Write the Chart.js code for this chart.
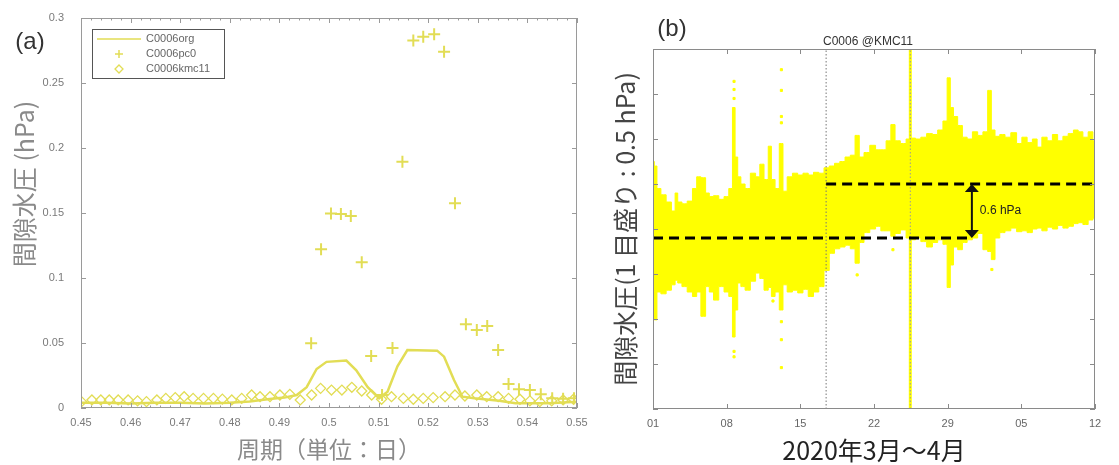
<!DOCTYPE html>
<html>
<head>
<meta charset="utf-8">
<script src="https://cdn.jsdelivr.net/npm/chart.js@4/dist/chart.umd.min.js"></script>
<style>
  html, body { margin: 0; padding: 0; background: #fff; }
  #wrap { position: relative; width: 1119px; height: 465px; }
  .panel { position: absolute; top: 0; height: 465px; }
  #panelA { left: 0; width: 600px; }
  #panelB { left: 600px; width: 519px; }
</style>
</head>
<body>
<div id="wrap">
  <div class="panel" id="panelA"><canvas id="spectrumChart" width="600" height="465"></canvas></div>
  <div class="panel" id="panelB"><canvas id="pressureChart" width="519" height="465"></canvas></div>
</div>
<script>
// (a) スペクトル: 周期 (日) と振幅 (hPa)
const periodTicks = [0.45, 0.46, 0.47, 0.48, 0.49, 0.5, 0.51, 0.52, 0.53, 0.54, 0.55];
const periodTickLabels = ['0.45', '0.46', '0.47', '0.48', '0.49', '0.5', '0.51', '0.52', '0.53', '0.54', '0.55'];
const ampTicks = [0, 0.05, 0.1, 0.15, 0.2, 0.25, 0.3];
const ampTickLabels = ['0', '0.05', '0.1', '0.15', '0.2', '0.25', '0.3'];

const orgPeriod = [0.450, 0.455, 0.460, 0.465, 0.470, 0.475, 0.480, 0.484, 0.488, 0.491, 0.4935, 0.4955, 0.4975, 0.4995, 0.5035, 0.5055, 0.5078, 0.5101, 0.5118, 0.5138, 0.5158, 0.5218, 0.5232, 0.5252, 0.5269, 0.5293, 0.5343, 0.5376, 0.5443, 0.5500];
const orgAmp = [0.004, 0.004, 0.0035, 0.004, 0.004, 0.0035, 0.004, 0.005, 0.007, 0.008, 0.010, 0.016, 0.030, 0.0355, 0.0365, 0.029, 0.016, 0.0075, 0.0125, 0.032, 0.0446, 0.0441, 0.0395, 0.0215, 0.0087, 0.0075, 0.0056, 0.0036, 0.0036, 0.0049];

const pc0Period = [0.4964, 0.4984, 0.5004, 0.5024, 0.5044, 0.5066, 0.5085, 0.5107, 0.5128, 0.5148, 0.5170, 0.5190, 0.5212, 0.5232, 0.5254, 0.5276, 0.5298, 0.5319, 0.5341, 0.5362, 0.5383, 0.5405, 0.5427, 0.5450, 0.5472, 0.5494];
const pc0Amp = [0.0498, 0.1221, 0.1497, 0.1492, 0.1477, 0.1121, 0.0400, 0.0100, 0.0462, 0.1895, 0.2826, 0.2856, 0.2875, 0.2741, 0.1575, 0.0644, 0.0600, 0.0631, 0.0446, 0.0185, 0.0144, 0.0138, 0.0105, 0.0075, 0.0072, 0.0075];

const kmcPeriod = [0.4501, 0.4522, 0.4540, 0.4557, 0.4575, 0.4595, 0.4614, 0.4632, 0.4653, 0.4671, 0.4690, 0.4708, 0.4726, 0.4747, 0.4767, 0.4785, 0.4804, 0.4824, 0.4844, 0.4861, 0.4881, 0.4901, 0.4921, 0.4942, 0.4965, 0.4983, 0.5005, 0.5026, 0.5046, 0.5066, 0.5086, 0.5106, 0.5126, 0.5150, 0.5170, 0.5190, 0.5210, 0.5234, 0.5254, 0.5274, 0.5298, 0.5318, 0.5341, 0.5362, 0.5385, 0.5405, 0.5425, 0.5449, 0.5472, 0.5493];
const kmcAmp = [0.0049, 0.0062, 0.0062, 0.0062, 0.0062, 0.0062, 0.0055, 0.0049, 0.0062, 0.0074, 0.0080, 0.0087, 0.0074, 0.0074, 0.0074, 0.0068, 0.0062, 0.0074, 0.0100, 0.0087, 0.0087, 0.0100, 0.0105, 0.0062, 0.0100, 0.0151, 0.0138, 0.0138, 0.0159, 0.0131, 0.0100, 0.0067, 0.0087, 0.0074, 0.0067, 0.0074, 0.0080, 0.0087, 0.0100, 0.0092, 0.0100, 0.0087, 0.0087, 0.0074, 0.0067, 0.0055, 0.0049, 0.0055, 0.0062, 0.0067];

// (b) 間隙水圧の時系列: 3/1 からの日数, 1 目盛り 0.5 hPa
const dayTicks = [0, 7, 14, 21, 28, 35, 42];
const dayTickLabels = ['01', '08', '15', '22', '29', '05', '12'];
const pressureTicks = [0, 0.5, 1, 1.5, 2, 2.5, 3, 3.5, 4];

const bandDays = [0, 0.25, 0.5, 1, 1.5, 2, 2.2, 2.5, 3, 3.5,
  4, 4.3, 4.8, 5.2, 5.5, 6, 6.5, 7, 7.4, 7.7,
  7.9, 8.2, 8.5, 9, 9.5, 10, 10.3, 10.8, 11.1, 11.4,
  11.8, 12.2, 12.5, 13, 13.5, 14, 14.5, 15, 15.5, 16,
  16.5, 17, 17.5, 18, 18.5, 19, 19.4, 19.8, 20.3, 20.9,
  21.4, 21.9, 22.4, 22.8, 23.2, 23.8, 24.3, 24.7, 25.2, 25.7,
  26.3, 26.8, 27.3, 27.8, 28.1, 28.4, 28.7, 29.2, 29.6, 30.1,
  30.6, 31.1, 31.6, 32, 32.3, 32.7, 33.2, 33.7, 34.3, 34.8,
  35.3, 35.8, 36.3, 36.7, 37.2, 37.7, 38.2, 38.7, 39.2, 39.7,
  40.2, 40.6, 41.1, 41.6, 42];
const bandUpper = [2.75, 2.70, 2.45, 2.38, 2.30, 2.20, 2.40, 2.30, 2.28, 2.31,
  2.45, 2.58, 2.57, 2.40, 2.36, 2.37, 2.33, 2.36, 2.45, 3.35,
  2.80, 2.58, 2.50, 2.45, 2.62, 2.58, 2.72, 2.55, 2.92, 2.55,
  2.45, 2.95, 2.42, 2.58, 2.62, 2.60, 2.62, 2.60, 2.63, 2.62,
  2.68, 2.70, 2.73, 2.75, 2.80, 2.82, 3.04, 2.80, 2.85, 2.93,
  2.88, 2.88, 2.98, 3.16, 2.98, 2.95, 3.00, 3.01, 3.00, 3.02,
  3.06, 3.05, 3.10, 3.20, 3.68, 3.35, 3.25, 3.15, 3.02, 3.00,
  3.08, 3.04, 3.08, 3.54, 3.10, 3.03, 3.05, 3.02, 3.07, 2.95,
  3.02, 2.96, 3.00, 2.91, 3.02, 2.98, 3.05, 2.98, 3.03, 3.06,
  3.10, 3.08, 3.02, 3.08, 2.98];
const bandLower = [1.00, 0.99, 1.30, 1.28, 1.32, 1.38, 1.43, 1.40, 1.36, 1.30,
  1.25, 1.30, 1.03, 1.36, 1.30, 1.21, 1.36, 1.30, 1.25, 0.80,
  1.10, 1.40, 1.36, 1.32, 1.42, 1.51, 1.45, 1.32, 1.35, 1.25,
  1.30, 1.10, 1.38, 1.30, 1.32, 1.29, 1.33, 1.25, 1.30, 1.36,
  1.54, 1.73, 1.78, 1.80, 1.82, 1.78, 1.62, 1.85, 1.96, 2.00,
  2.03, 1.98, 1.98, 1.92, 1.95, 1.99, 1.90, 1.88, 1.90, 1.86,
  1.80, 1.85, 1.88, 1.83, 1.35, 1.60, 1.80, 1.77, 1.85, 1.88,
  1.90, 1.95, 1.77, 1.75, 1.66, 1.90, 1.96, 1.98, 2.01, 1.97,
  1.98, 1.96, 2.00, 2.01, 1.98, 2.02, 2.00, 2.04, 2.01, 2.03,
  2.06, 2.07, 2.05, 2.10, 2.12];

// 飛び値 (点)
const outlierDays = [7.7, 7.7, 7.7, 7.7, 7.7, 12.2, 12.2, 12.2, 12.2, 12.2, 12.2, 12.2, 19.4, 22.8, 32.2, 11.4];
const outlierValues = [3.45, 3.55, 3.64, 0.64, 0.58, 3.77, 3.54, 3.25, 3.18, 0.97, 0.77, 0.46, 1.49, 1.77, 1.55, 1.20];

// 基準線と縦線
const levelLow = { from: 0, to: 29.9, value: 1.9 };
const levelHigh = { from: 16.45, to: 42, value: 2.5 };
const markerDays = [16.45, 24.45];
const arrowDay = 30.3;

const yellowA = '#e2dd55';
const yellowB = '#ffff00';
const latin = '"Liberation Sans", Arial, sans-serif';
const cjk = '"Noto Sans CJK JP", "Noto Sans", sans-serif';

const pts = (xs, ys) => xs.map((x, i) => ({ x: x, y: ys[i] }));

// 枠と内向きの目盛り
const frameTicks = {
    id: 'frameTicks',
    afterDatasetsDraw(chart, args, o) {
        const { ctx, chartArea: a, scales: { x, y } } = chart;
        ctx.save();
        ctx.strokeStyle = o.color;
        ctx.lineWidth = 1;
        ctx.strokeRect(a.left + 0.5, a.top + 0.5, a.right - a.left - 1, a.bottom - a.top - 1);
        ctx.beginPath();
        const tickX = (v, len) => {
            const px = Math.round(x.getPixelForValue(v)) + 0.5;
            ctx.moveTo(px, a.bottom); ctx.lineTo(px, a.bottom - len);
            ctx.moveTo(px, a.top); ctx.lineTo(px, a.top + len);
        };
        x.ticks.forEach(t => tickX(t.value, o.major));
        (o.xMinor || []).forEach(v => tickX(v, o.minor));
        y.ticks.forEach(t => {
            const py = Math.round(y.getPixelForValue(t.value)) + 0.5;
            ctx.moveTo(a.left, py); ctx.lineTo(a.left + o.major, py);
            ctx.moveTo(a.right, py); ctx.lineTo(a.right - o.major, py);
        });
        ctx.stroke();
        ctx.restore();
    }
};

// 自由配置の文字
const freeText = {
    id: 'freeText',
    afterDraw(chart, args, o) {
        const ctx = chart.ctx;
        (o.items || []).forEach(it => {
            ctx.save();
            ctx.font = it.font;
            ctx.fillStyle = it.color;
            ctx.textAlign = it.align || 'center';
            ctx.textBaseline = 'middle';
            ctx.translate(it.x, it.y);
            if (it.rotate) ctx.rotate(it.rotate);
            ctx.fillText(it.text, 0, 0);
            ctx.restore();
        });
    }
};

// (a) 凡例 (枠付き)
const boxLegend = {
    id: 'boxLegend',
    afterDraw(chart, args, o) {
        const ctx = chart.ctx;
        ctx.save();
        ctx.fillStyle = '#fff';
        ctx.fillRect(o.x, o.y, o.w, o.h);
        ctx.strokeStyle = '#555';
        ctx.lineWidth = 1;
        ctx.strokeRect(o.x + 0.5, o.y + 0.5, o.w, o.h);
        chart.data.datasets.forEach((ds, i) => {
            const cy = o.y + o.first + i * o.row;
            const cx = o.x + 27;
            ctx.strokeStyle = ds.borderColor;
            ctx.lineWidth = Math.min(ds.borderWidth, 1.5);
            ctx.beginPath();
            if (ds.showLine) {
                ctx.moveTo(o.x + 5, cy); ctx.lineTo(o.x + 49, cy);
            } else if (ds.pointStyle === 'cross') {
                ctx.moveTo(cx - 4, cy); ctx.lineTo(cx + 4, cy);
                ctx.moveTo(cx, cy - 4); ctx.lineTo(cx, cy + 4);
            } else {
                ctx.moveTo(cx, cy - 4); ctx.lineTo(cx + 4, cy);
                ctx.lineTo(cx, cy + 4); ctx.lineTo(cx - 4, cy); ctx.closePath();
            }
            ctx.stroke();
            ctx.fillStyle = '#666';
            ctx.font = '11px ' + latin;
            ctx.textAlign = 'left';
            ctx.textBaseline = 'middle';
            ctx.fillText(ds.label, o.x + 54, cy);
        });
        ctx.restore();
    }
};

// (b) 0.6 hPa の両矢印
const levelArrow = {
    id: 'levelArrow',
    afterDatasetsDraw(chart) {
        const { ctx, scales: { x, y } } = chart;
        const px = x.getPixelForValue(arrowDay);
        const top = y.getPixelForValue(levelHigh.value);
        const bot = y.getPixelForValue(levelLow.value);
        ctx.save();
        ctx.strokeStyle = '#111';
        ctx.fillStyle = '#111';
        ctx.lineWidth = 2;
        ctx.beginPath();
        ctx.moveTo(px, top + 6); ctx.lineTo(px, bot - 6);
        ctx.stroke();
        ctx.beginPath();
        ctx.moveTo(px, top); ctx.lineTo(px - 7, top + 8); ctx.lineTo(px + 7, top + 8); ctx.closePath();
        ctx.moveTo(px, bot); ctx.lineTo(px - 7, bot - 8); ctx.lineTo(px + 7, bot - 8); ctx.closePath();
        ctx.fill();
        ctx.font = '12px ' + latin;
        ctx.textAlign = 'left';
        ctx.textBaseline = 'middle';
        ctx.fillStyle = '#222';
        ctx.fillText('0.6 hPa', px + 8, (top + bot) / 2);
        ctx.restore();
    }
};

const periodMinor = [];
periodTicks.slice(0, -1).forEach(v => { for (let k = 1; k < 5; k++) periodMinor.push(v + k * 0.002); });

document.addEventListener('DOMContentLoaded', function () {
    // (a) スペクトル
    new Chart(document.getElementById('spectrumChart'), {
        type: 'scatter',
        data: {
            datasets: [{
                label: 'C0006org',
                data: pts(orgPeriod, orgAmp),
                showLine: true,
                borderColor: yellowA,
                borderWidth: 2.5,
                pointRadius: 0,
                order: 0
            }, {
                label: 'C0006pc0',
                data: pts(pc0Period, pc0Amp),
                pointStyle: 'cross',
                pointRadius: 6,
                borderColor: yellowA,
                borderWidth: 2,
                order: 1
            }, {
                label: 'C0006kmc11',
                data: pts(kmcPeriod, kmcAmp),
                pointStyle: 'rectRot',
                pointRadius: 5,
                borderColor: yellowA,
                backgroundColor: 'rgba(0,0,0,0)',
                borderWidth: 1.3,
                order: 2
            }]
        },
        options: {
            responsive: false,
            animation: false,
            layout: { padding: { top: 18, right: 23, left: 0, bottom: 0 } },
            plugins: {
                legend: { display: false },
                tooltip: { enabled: false },
                frameTicks: { color: '#9a9a9a', major: 5, minor: 2.5, xMinor: periodMinor },
                boxLegend: { x: 92, y: 29, w: 132, h: 49, first: 10, row: 15 },
                freeText: {
                    items: [
                        { text: '(a)', x: 30, y: 42, font: '24px ' + latin, color: '#333' },
                        { text: '間隙水圧 (hPa)', x: 24, y: 184, rotate: -Math.PI / 2, font: '25px ' + cjk, color: '#8a8a8a' }
                    ]
                }
            },
            scales: {
                x: {
                    type: 'linear', min: 0.45, max: 0.55,
                    afterBuildTicks: s => { s.ticks = periodTicks.map(v => ({ value: v })); },
                    afterFit: s => { s.height = 57; },
                    ticks: {
                        callback: (v, i) => periodTickLabels[i],
                        autoSkip: false, maxRotation: 0, padding: 0,
                        color: '#7a7a7a', font: { family: latin, size: 11 }
                    },
                    grid: { display: false },
                    border: { display: false },
                    title: {
                        display: true, text: '周期（単位：日）', color: '#8a8a8a',
                        font: { family: cjk, size: 23 }, padding: { top: 0, bottom: 2 }
                    }
                },
                y: {
                    type: 'linear', min: 0, max: 0.3,
                    afterBuildTicks: s => { s.ticks = ampTicks.map(v => ({ value: v })); },
                    afterFit: s => { s.width = 81; },
                    ticks: {
                        callback: (v, i) => ampTickLabels[i],
                        autoSkip: false, padding: 9,
                        color: '#7a7a7a', font: { family: latin, size: 11 }
                    },
                    grid: { display: false },
                    border: { display: false }
                }
            }
        },
        plugins: [frameTicks, boxLegend, freeText]
    });

    // (b) 時系列
    new Chart(document.getElementById('pressureChart'), {
        type: 'scatter',
        data: {
            datasets: [{
                label: 'upper',
                data: pts(bandDays, bandUpper),
                showLine: true,
                stepped: 'middle',
                borderColor: yellowB,
                backgroundColor: yellowB,
                borderWidth: 1,
                pointRadius: 0,
                fill: '+1',
                order: 5
            }, {
                label: 'lower',
                data: pts(bandDays, bandLower),
                showLine: true,
                stepped: 'middle',
                borderColor: yellowB,
                borderWidth: 1,
                pointRadius: 0,
                fill: false,
                order: 5
            }, {
                label: 'outliers',
                data: pts(outlierDays, outlierValues),
                pointStyle: 'rect',
                pointRadius: 1.5,
                borderColor: yellowB,
                backgroundColor: yellowB,
                order: 4
            }, {
                label: 'yellow marker',
                data: [{ x: markerDays[1], y: 0 }, { x: markerDays[1], y: 4 }],
                showLine: true,
                borderColor: yellowB,
                borderWidth: 3,
                pointRadius: 0,
                order: 3
            }, {
                label: 'dotted 1',
                data: [{ x: markerDays[0], y: 0 }, { x: markerDays[0], y: 4 }],
                showLine: true,
                borderColor: '#777',
                borderWidth: 1,
                borderDash: [1.5, 2],
                pointRadius: 0,
                order: 2
            }, {
                label: 'dotted 2',
                data: [{ x: markerDays[1], y: 0 }, { x: markerDays[1], y: 4 }],
                showLine: true,
                borderColor: '#999',
                borderWidth: 1,
                borderDash: [1.5, 2],
                pointRadius: 0,
                order: 2
            }, {
                label: 'low level',
                data: [{ x: levelLow.from, y: levelLow.value }, { x: levelLow.to, y: levelLow.value }],
                showLine: true,
                borderColor: '#000',
                borderWidth: 3,
                borderDash: [10, 6],
                pointRadius: 0,
                order: 0
            }, {
                label: 'high level',
                data: [{ x: levelHigh.from, y: levelHigh.value }, { x: levelHigh.to, y: levelHigh.value }],
                showLine: true,
                borderColor: '#000',
                borderWidth: 3,
                borderDash: [10, 6],
                pointRadius: 0,
                order: 0
            }]
        },
        options: {
            responsive: false,
            animation: false,
            layout: { padding: { top: 49, right: 24, left: 0, bottom: 0 } },
            plugins: {
                legend: { display: false },
                tooltip: { enabled: false },
                frameTicks: { color: '#8a8a8a', major: 5 },
                freeText: {
                    items: [
                        { text: '(b)', x: 72, y: 29, font: '24px ' + latin, color: '#333' },
                        { text: 'C0006 @KMC11', x: 268, y: 42, font: '12px ' + latin, color: '#333' }
                    ]
                }
            },
            scales: {
                x: {
                    type: 'linear', min: 0, max: 42,
                    afterBuildTicks: s => { s.ticks = dayTicks.map(v => ({ value: v })); },
                    afterFit: s => { s.height = 56; },
                    ticks: {
                        callback: (v, i) => dayTickLabels[i],
                        autoSkip: false, maxRotation: 0, padding: 0,
                        color: '#666', font: { family: latin, size: 11 }
                    },
                    grid: { display: false },
                    border: { display: false },
                    title: {
                        display: true, text: '2020年3月〜4月', color: '#222',
                        font: { family: cjk, size: 25 }, padding: { top: 0, bottom: 0 }
                    }
                },
                y: {
                    type: 'linear', min: 0, max: 4,
                    afterBuildTicks: s => { s.ticks = pressureTicks.map(v => ({ value: v })); },
                    afterFit: s => { s.width = 53; },
                    ticks: { display: false },
                    grid: { display: false },
                    border: { display: false },
                    title: {
                        display: true, text: '間隙水圧(1 目盛り : 0.5 hPa)', color: '#444',
                        font: { family: cjk, size: 25 }, padding: { top: 10, bottom: 0 }
                    }
                }
            }
        },
        plugins: [frameTicks, levelArrow, freeText]
    });
});
</script>
</body>
</html>
